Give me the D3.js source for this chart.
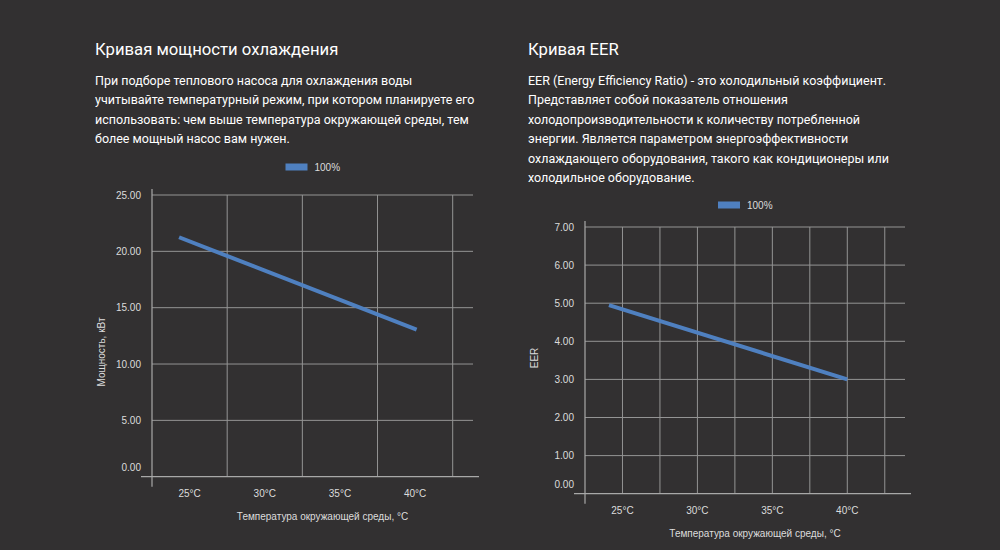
<!DOCTYPE html>
<html>
<head>
  <meta charset="utf-8">
  <title>Кривые охлаждения и EER</title>
  <script src="https://cdn.jsdelivr.net/npm/d3@7"></script>
  <style>
    html, body { margin: 0; padding: 0; background: #323031; }
    svg { display: block; }
  </style>
</head>
<body>
  <script>
  // данные
  var seriesName = '100%';
  var tempTicks = [25, 30, 35, 40];
  var tempLabels = ['25°C', '30°C', '35°C', '40°C'];

  var powerTemps = [24.3, 40.1];
  var powerValues = [21.25, 13.05];
  var powerTicks = [0, 5, 10, 15, 20, 25];
  var powerGridX = [27.5, 32.5, 37.5, 42.5];

  var eerTemps = [24.1, 40];
  var eerValues = [4.95, 3.0];
  var eerTicks = [0, 1, 2, 3, 4, 5, 6, 7];
  var eerGridX = [25, 27.5, 30, 32.5, 35, 37.5, 40, 42.5];

  var powerText = [
    'При подборе теплового насоса для охлаждения воды',
    'учитывайте температурный режим, при котором планируете его',
    'использовать: чем выше температура окружающей среды, тем',
    'более мощный насос вам нужен.'
  ];
  var eerText = [
    'EER (Energy Efficiency Ratio) - это холодильный коэффициент.',
    'Представляет собой показатель отношения',
    'холодопроизводительности к количеству потребленной',
    'энергии. Является параметром энергоэффективности',
    'охлаждающего оборудования, такого как кондиционеры или',
    'холодильное оборудование.'
  ];

  var width = 1000;
  var height = 550;
  var lineColor = '#4f80c0';
  var gridColor = '#949494';

  var svg = d3.select('body')
    .append('svg')
    .attr('width', width)
    .attr('height', height);

  // заголовок и описание
  function drawBlock(x, title, lines) {
    svg.append('text')
      .attr('x', x)
      .attr('y', 55)
      .attr('fill', '#ffffff')
      .style('font-family', 'Roboto')
      .style('font-size', '16.7px')
      .text(title);
    svg.append('text')
      .attr('fill', '#ffffff')
      .style('font-family', 'Roboto')
      .style('font-size', '12.5px')
      .selectAll('tspan')
      .data(lines)
      .enter()
      .append('tspan')
      .attr('x', x)
      .attr('y', (d, i) => 85 + i * 19.4)
      .text(d => d);
  }

  drawBlock(95, 'Кривая мощности охлаждения', powerText);
  drawBlock(528, 'Кривая EER', eerText);

  // график
  function drawChart(c) {
    var x = d3.scaleLinear().domain([22.5, 43.85]).range([c.left, c.right]);
    var y = d3.scaleLinear().domain([0, c.max]).range([c.bottom, c.top]);
    var g = svg.append('g');
    var font = 'Liberation Sans, Arial, sans-serif';

    // горизонтальная сетка
    g.selectAll('.hgrid')
      .data(c.yTicks.filter(d => d > 0))
      .enter()
      .append('line')
      .attr('x1', c.left)
      .attr('x2', c.right)
      .attr('y1', d => y(d))
      .attr('y2', d => y(d))
      .attr('stroke', gridColor)
      .attr('stroke-width', 1);

    // вертикальная сетка
    g.selectAll('.vgrid')
      .data(c.gridX)
      .enter()
      .append('line')
      .attr('x1', d => x(d))
      .attr('x2', d => x(d))
      .attr('y1', c.top)
      .attr('y2', c.bottom)
      .attr('stroke', gridColor)
      .attr('stroke-width', 1);

    // оси
    g.append('line')
      .attr('x1', c.left - 11).attr('x2', c.right + 6)
      .attr('y1', y(0)).attr('y2', y(0))
      .attr('stroke', '#a8a8a8').attr('stroke-width', 1.2);
    g.append('line')
      .attr('x1', c.left).attr('x2', c.left)
      .attr('y1', c.top - 6).attr('y2', c.bottom + 10)
      .attr('stroke', '#a8a8a8').attr('stroke-width', 1.2);

    // подписи оси Y
    g.selectAll('.ylab')
      .data(c.yTicks)
      .enter()
      .append('text')
      .attr('x', c.left - 11)
      .attr('y', d => y(d) + (d === 0 ? -9 : 0))
      .attr('dy', '0.35em')
      .attr('text-anchor', 'end')
      .attr('fill', '#dcdcdc')
      .style('font-family', font)
      .style('font-size', '10px')
      .text(d => d.toFixed(2));

    // подписи оси X
    g.selectAll('.xlab')
      .data(tempTicks)
      .enter()
      .append('text')
      .attr('x', d => x(d))
      .attr('y', c.bottom + 17)
      .attr('dy', '0.35em')
      .attr('text-anchor', 'middle')
      .attr('fill', '#dcdcdc')
      .style('font-family', font)
      .style('font-size', '10px')
      .text((d, i) => tempLabels[i]);

    // названия осей
    g.append('text')
      .attr('x', (c.left + c.right) / 2 + 10)
      .attr('y', c.bottom + 40)
      .attr('dy', '0.35em')
      .attr('text-anchor', 'middle')
      .attr('fill', '#dcdcdc')
      .style('font-family', font)
      .style('font-size', '10px')
      .text('Температура окружающей среды, °C');
    g.append('text')
      .attr('transform', 'translate(' + (c.left - 51) + ',' + c.yTitleY + ') rotate(-90)')
      .attr('dy', '0.35em')
      .attr('text-anchor', 'middle')
      .attr('fill', '#dcdcdc')
      .style('font-family', font)
      .style('font-size', '10px')
      .text(c.yTitle);

    // линия
    var pts = c.temps.map((t, i) => [t, c.values[i]]);
    var line = d3.line().x(d => x(d[0])).y(d => y(d[1]));
    g.append('path')
      .datum(pts)
      .attr('d', line)
      .attr('fill', 'none')
      .attr('stroke', lineColor)
      .attr('stroke-width', 4);

    // легенда
    var lg = g.append('g')
      .attr('transform', 'translate(' + ((c.left + c.right) / 2 - 27) + ',' + c.legendY + ')');
    lg.append('rect')
      .attr('x', 0).attr('y', -3.5)
      .attr('width', 22).attr('height', 7)
      .attr('fill', lineColor);
    lg.append('text')
      .attr('x', 29)
      .attr('y', 0)
      .attr('dy', '0.35em')
      .attr('fill', '#dcdcdc')
      .style('font-family', font)
      .style('font-size', '10px')
      .text(seriesName);
  }

  drawChart({
    left: 152, right: 473, top: 195, bottom: 476.7,
    max: 25, yTicks: powerTicks, gridX: powerGridX,
    temps: powerTemps, values: powerValues,
    yTitle: 'Мощность, кВт', yTitleY: 352, legendY: 167
  });

  drawChart({
    left: 585, right: 905, top: 227, bottom: 493.7,
    max: 7, yTicks: eerTicks, gridX: eerGridX,
    temps: eerTemps, values: eerValues,
    yTitle: 'EER', yTitleY: 358, legendY: 205
  });
  </script>
</body>
</html>
